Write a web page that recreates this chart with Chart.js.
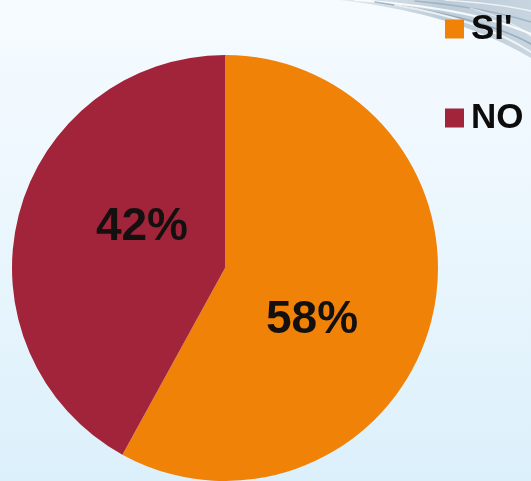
<!DOCTYPE html>
<html>
<head>
<meta charset="utf-8">
<script src="https://cdn.jsdelivr.net/npm/chart.js@4/dist/chart.umd.min.js"></script>
<style>
  html, body { margin: 0; padding: 0; overflow: hidden; background: #eef7fd; }
  #wrap { position: relative; width: 531px; height: 481px; }
  canvas { display: block; }
</style>
</head>
<body>
<div id="wrap"><canvas id="chart" width="531" height="481"></canvas></div>
<script>
// Survey answers and their shares (percent)
const categories = ["SI'", "NO"];
const shares = [58, 42];
const sliceColors = ['#f08208', '#a2243a'];

const FONT = '"Liberation Sans", Arial, Helvetica, sans-serif';

// Soft blue backdrop with a grey swirl in the upper right corner
const backdrop = {
  id: 'backdrop',
  beforeDraw(chart) {
    const { ctx, width, height } = chart;
    ctx.save();
    const bg = ctx.createLinearGradient(0, 0, 0, height);
    bg.addColorStop(0, '#f6fbff');
    bg.addColorStop(0.5, '#eaf6fd');
    bg.addColorStop(1, '#dcf0fb');
    ctx.fillStyle = bg;
    ctx.fillRect(0, 0, width, height);

    // swirl body
    ctx.beginPath();
    ctx.moveTo(340, 0);
    ctx.bezierCurveTo(405, 8, 470, 22, 531, 58);
    ctx.lineTo(531, 0);
    ctx.closePath();
    const sw = ctx.createLinearGradient(340, 0, 531, 55);
    sw.addColorStop(0, 'rgba(200,212,222,0.45)');
    sw.addColorStop(0.5, 'rgba(165,185,200,0.7)');
    sw.addColorStop(1, 'rgba(180,198,212,0.7)');
    ctx.fillStyle = sw;
    ctx.fill();

    // streaks inside the swirl
    const streaks = [
      [355, 0, 425, 5, 485, 14, 531, 34, 'rgba(255,255,255,0.85)', 2.2],
      [375, 2, 440, 11, 495, 24, 531, 44, 'rgba(125,145,165,0.6)', 1.6],
      [395, 5, 455, 15, 500, 32, 531, 52, 'rgba(255,255,255,0.75)', 1.8],
      [415, 1, 468, 6, 505, 14, 531, 22, 'rgba(135,155,172,0.55)', 1.4],
      [445, 0, 488, 3, 514, 7, 531, 11, 'rgba(255,255,255,0.7)', 1.4],
      [470, 8, 500, 16, 518, 26, 531, 36, 'rgba(255,255,255,0.6)', 1.2]
    ];
    ctx.lineCap = 'round';
    streaks.forEach(s => {
      ctx.beginPath();
      ctx.moveTo(s[0], s[1]);
      ctx.bezierCurveTo(s[2], s[3], s[4], s[5], s[6], s[7]);
      ctx.strokeStyle = s[8];
      ctx.lineWidth = s[9];
      ctx.stroke();
    });
    ctx.restore();
  }
};

// Percentage text placed inside each slice
const sliceLabels = {
  id: 'sliceLabels',
  afterDatasetsDraw(chart, args, opts) {
    const { ctx } = chart;
    const meta = chart.getDatasetMeta(0);
    const values = chart.data.datasets[0].data;
    ctx.save();
    ctx.font = `bold ${opts.size}px ${FONT}`;
    ctx.fillStyle = opts.color;
    ctx.textAlign = 'center';
    ctx.textBaseline = 'middle';
    meta.data.forEach((arc, i) => {
      const p = arc.getProps(['x', 'y', 'startAngle', 'endAngle', 'outerRadius'], true);
      const place = opts.placement[i] || { turn: 0, depth: 0.5 };
      const a = (p.startAngle + p.endAngle) / 2 + place.turn * Math.PI / 180;
      const r = p.outerRadius * place.depth;
      ctx.fillText(values[i] + '%', p.x + r * Math.cos(a), p.y + r * Math.sin(a));
    });
    ctx.restore();
  }
};

// Legend column at the top right, built from the chart's own legend items
const sideLegend = {
  id: 'sideLegend',
  afterDraw(chart, args, opts) {
    const { ctx } = chart;
    const items = Chart.overrides.pie.plugins.legend.labels.generateLabels(chart);
    ctx.save();
    ctx.font = `bold ${opts.size}px ${FONT}`;
    ctx.textAlign = 'left';
    ctx.textBaseline = 'middle';
    items.forEach((item, i) => {
      const cy = opts.top + i * opts.gap;
      ctx.fillStyle = item.fillStyle;
      ctx.fillRect(opts.left, cy - opts.box / 2, opts.box, opts.box);
      ctx.fillStyle = opts.color;
      ctx.fillText(item.text, opts.left + opts.box + opts.textGap, cy);
    });
    ctx.restore();
  }
};

new Chart(document.getElementById('chart'), {
  type: 'pie',
  data: {
    labels: categories,
    datasets: [{
      data: shares,
      backgroundColor: sliceColors,
      borderWidth: 0,
      hoverOffset: 0
    }]
  },
  options: {
    responsive: false,
    devicePixelRatio: 1,
    animation: false,
    events: [],
    layout: { padding: { top: 55, bottom: 0, left: 12, right: 93 } },
    plugins: {
      legend: { display: false },
      tooltip: { enabled: false },
      sliceLabels: {
        size: 46,
        color: '#141010',
        placement: [ { turn: 16.5, depth: 0.476 }, { turn: 11.9, depth: 0.435 } ]
      },
      sideLegend: { left: 445, top: 29, gap: 89, box: 19, textGap: 7, size: 35, color: '#0c0c0c' }
    }
  },
  plugins: [backdrop, sliceLabels, sideLegend]
});
</script>
</body>
</html>
